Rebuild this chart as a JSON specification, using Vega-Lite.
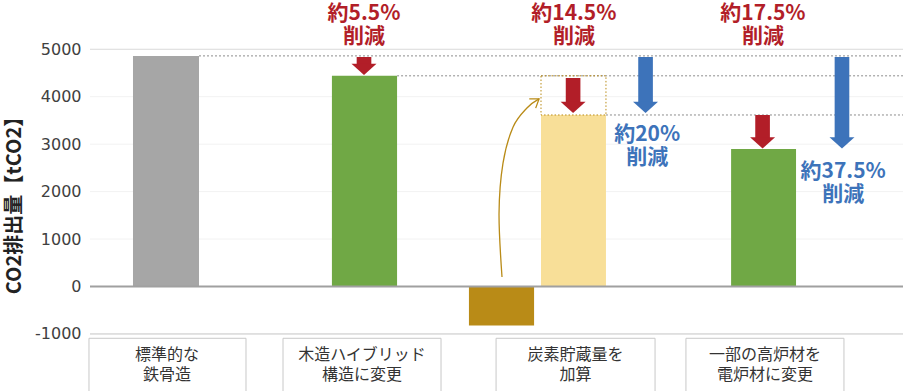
{
  "$schema": "https://vega.github.io/schema/vega-lite/v6.json",
  "width": 813,
  "height": 391,
  "autosize": {"type": "none"},
  "padding": {"left": 90, "top": 0, "right": 0, "bottom": 0},
  "background": "white",
  "config": {
    "view": {"stroke": null},
    "font": "Noto Sans CJK JP",
    "axisY": {
      "domain": false, "ticks": false, "tickSize": 0, "grid": false,
      "labelExpr": "datum.value < 0 ? '-' + abs(datum.value) : '' + datum.value",
      "labelFont": "DejaVu Sans", "labelFontSize": 16, "labelColor": "#404040",
      "labelPadding": 9,
      "titleFont": "Noto Sans CJK JP", "titleFontSize": 20, "titleFontWeight": "bold",
      "titleColor": "#222222", "titleAngle": 270, "titleX": -76, "titleY": 200,
      "titleAlign": "center", "titleBaseline": "middle"
    }
  },
  "datasets": {
    "grid": [{"val": 1000}, {"val": 2000}, {"val": 3000}, {"val": 4000}],
    "grid5000": [{"val": 5000}],
    "zero": [{"val": 0}],
    "gridNeg": [{"val": -1000}],
    "bars": [
      {"item": "標準", "pos": -0.1667, "pos2": 0.1667, "val": 4860, "val2": 0},
      {"item": "木造", "pos": 0.838, "pos2": 1.167, "val": 4440, "val2": 0},
      {"item": "炭素貯蔵", "pos": 1.53, "pos2": 1.859, "val": 0, "val2": -820},
      {"item": "炭素貯蔵後", "pos": 1.894, "pos2": 2.222, "val": 3615, "val2": 0},
      {"item": "電炉", "pos": 2.854, "pos2": 3.182, "val": 2900, "val2": 0}
    ],
    "dotted": [
      {"pos": 0.1667, "pos2": 3.7222, "val": 4860},
      {"pos": 1.167, "pos2": 3.7222, "val": 4440},
      {"pos": 2.222, "pos2": 3.7222, "val": 3615}
    ],
    "box": [{"pos": 1.894, "pos2": 2.222, "val": 4440, "val2": 3615}],
    "shafts": [
      {"item": "個別", "pos": 0.963, "pos2": 1.037, "val": 4837, "val2": 4670},
      {"item": "個別", "pos": 2.019, "pos2": 2.093, "val": 4394, "val2": 3870},
      {"item": "個別", "pos": 2.976, "pos2": 3.05, "val": 3614, "val2": 3120},
      {"item": "累計", "pos": 2.385, "pos2": 2.459, "val": 4837, "val2": 3870},
      {"item": "累計", "pos": 3.377, "pos2": 3.451, "val": 4837, "val2": 3120}
    ],
    "heads": [
      {"item": "個別", "pos": 1.0, "val": 4457},
      {"item": "個別", "pos": 2.056, "val": 3656},
      {"item": "個別", "pos": 3.013, "val": 2908},
      {"item": "累計", "pos": 2.422, "val": 3656},
      {"item": "累計", "pos": 3.414, "val": 2908}
    ],
    "notes": [
      {"item": "個別", "pos": 1.0, "val": 5740, "label": "約5.5%\n削減"},
      {"item": "個別", "pos": 2.06, "val": 5740, "label": "約14.5%\n削減"},
      {"item": "個別", "pos": 3.015, "val": 5740, "label": "約17.5%\n削減"},
      {"item": "累計", "pos": 2.43, "val": 3200, "label": "約20%\n削減"},
      {"item": "累計", "pos": 3.42, "val": 2420, "label": "約37.5%\n削減"}
    ],
    "curve": [
      {"seq": 1, "pos": 1.697, "val": 200},
      {"seq": 2, "pos": 1.682, "val": 1543},
      {"seq": 3, "pos": 1.702, "val": 2600},
      {"seq": 4, "pos": 1.753, "val": 3362},
      {"seq": 5, "pos": 1.823, "val": 3763},
      {"seq": 6, "pos": 1.884, "val": 3953}
    ],
    "curveTip": [{"pos": 1.884, "val": 3953}],
    "cats": [
      {"pos": -0.389, "pos2": 0.404, "center": 0.005, "label": "標準的な\n鉄骨造"},
      {"pos": 0.591, "pos2": 1.389, "center": 0.99, "label": "木造ハイブリッド\n構造に変更"},
      {"pos": 1.667, "pos2": 2.47, "center": 2.068, "label": "炭素貯蔵量を\n加算"},
      {"pos": 2.626, "pos2": 3.424, "center": 3.025, "label": "一部の高炉材を\n電炉材に変更"}
    ]
  },
  "layer": [
    {
      "data": {"name": "grid"},
      "mark": {"type": "rule", "color": "#f2f2f2", "strokeWidth": 1},
      "encoding": {
        "y": {
          "field": "val", "type": "quantitative",
          "scale": {"domain": [-2202, 6038], "nice": false, "zero": false},
          "axis": {"values": [-1000, 0, 1000, 2000, 3000, 4000, 5000], "title": "CO2排出量【tCO2】"}
        }
      }
    },
    {
      "data": {"name": "grid5000"},
      "mark": {"type": "rule", "color": "#d9d9d9", "strokeWidth": 1},
      "encoding": {"y": {"field": "val", "type": "quantitative", "axis": {"values": [-1000, 0, 1000, 2000, 3000, 4000, 5000], "title": "CO2排出量【tCO2】"}}}
    },
    {
      "data": {"name": "gridNeg"},
      "mark": {"type": "rule", "color": "#c4c4c4", "strokeWidth": 1},
      "encoding": {"y": {"field": "val", "type": "quantitative", "axis": {"values": [-1000, 0, 1000, 2000, 3000, 4000, 5000], "title": "CO2排出量【tCO2】"}}}
    },
    {
      "data": {"name": "bars"},
      "mark": {"type": "rect"},
      "encoding": {
        "x": {"field": "pos", "type": "quantitative", "axis": null,
              "scale": {"domain": [-0.3838, 3.7222], "nice": false, "zero": false}},
        "x2": {"field": "pos2"},
        "y": {"field": "val", "type": "quantitative", "axis": {"values": [-1000, 0, 1000, 2000, 3000, 4000, 5000], "title": "CO2排出量【tCO2】"}},
        "y2": {"field": "val2"},
        "color": {
          "field": "item", "type": "nominal", "legend": null,
          "scale": {
            "domain": ["標準", "木造", "炭素貯蔵", "炭素貯蔵後", "電炉", "個別", "累計"],
            "range": ["#A6A6A6", "#70A845", "#B98B17", "#F8DF98", "#70A845", "#B21E28", "#3D73BA"]
          }
        }
      }
    },
    {
      "data": {"name": "zero"},
      "mark": {"type": "rule", "color": "#a0a0a0", "strokeWidth": 2},
      "encoding": {"y": {"field": "val", "type": "quantitative", "axis": {"values": [-1000, 0, 1000, 2000, 3000, 4000, 5000], "title": "CO2排出量【tCO2】"}}}
    },
    {
      "data": {"name": "dotted"},
      "mark": {"type": "rule", "color": "#8c8c8c", "strokeWidth": 1, "strokeDash": [2, 2]},
      "encoding": {
        "x": {"field": "pos", "type": "quantitative", "axis": null},
        "x2": {"field": "pos2"},
        "y": {"field": "val", "type": "quantitative", "axis": {"values": [-1000, 0, 1000, 2000, 3000, 4000, 5000], "title": "CO2排出量【tCO2】"}}
      }
    },
    {
      "data": {"name": "box"},
      "mark": {"type": "rect", "fill": null, "fillOpacity": 0, "stroke": "#B98B17", "strokeWidth": 1, "strokeDash": [1.5, 2]},
      "encoding": {
        "x": {"field": "pos", "type": "quantitative", "axis": null},
        "x2": {"field": "pos2"},
        "y": {"field": "val", "type": "quantitative", "axis": {"values": [-1000, 0, 1000, 2000, 3000, 4000, 5000], "title": "CO2排出量【tCO2】"}},
        "y2": {"field": "val2"}
      }
    },
    {
      "data": {"name": "shafts"},
      "mark": {"type": "rect"},
      "encoding": {
        "x": {"field": "pos", "type": "quantitative", "axis": null},
        "x2": {"field": "pos2"},
        "y": {"field": "val", "type": "quantitative", "axis": {"values": [-1000, 0, 1000, 2000, 3000, 4000, 5000], "title": "CO2排出量【tCO2】"}},
        "y2": {"field": "val2"},
        "color": {"field": "item", "type": "nominal", "legend": null}
      }
    },
    {
      "data": {"name": "heads"},
      "mark": {"type": "point", "shape": "M-1,-0.9L1,-0.9L0,0Z", "filled": true, "size": 625, "opacity": 1, "strokeWidth": 0},
      "encoding": {
        "x": {"field": "pos", "type": "quantitative", "axis": null},
        "y": {"field": "val", "type": "quantitative", "axis": {"values": [-1000, 0, 1000, 2000, 3000, 4000, 5000], "title": "CO2排出量【tCO2】"}},
        "color": {"field": "item", "type": "nominal", "legend": null}
      }
    },
    {
      "data": {"name": "notes"},
      "mark": {"type": "text", "lineBreak": "\n", "fontSize": 21, "fontWeight": "bold", "lineHeight": 23, "align": "center", "baseline": "middle"},
      "encoding": {
        "x": {"field": "pos", "type": "quantitative", "axis": null},
        "y": {"field": "val", "type": "quantitative", "axis": {"values": [-1000, 0, 1000, 2000, 3000, 4000, 5000], "title": "CO2排出量【tCO2】"}},
        "text": {"field": "label"},
        "color": {"field": "item", "type": "nominal", "legend": null}
      }
    },
    {
      "data": {"name": "curve"},
      "mark": {"type": "line", "interpolate": "cardinal", "stroke": "#B98B17", "strokeWidth": 1.3},
      "encoding": {
        "x": {"field": "pos", "type": "quantitative", "axis": null},
        "y": {"field": "val", "type": "quantitative", "axis": {"values": [-1000, 0, 1000, 2000, 3000, 4000, 5000], "title": "CO2排出量【tCO2】"}},
        "order": {"field": "seq", "type": "quantitative"}
      }
    },
    {
      "data": {"name": "curveTip"},
      "mark": {"type": "point", "shape": "M-1,-0.7L0,0L-1,0.7", "filled": false, "stroke": "#B98B17", "strokeWidth": 1.3, "size": 256, "opacity": 1, "angle": 325},
      "encoding": {
        "x": {"field": "pos", "type": "quantitative", "axis": null},
        "y": {"field": "val", "type": "quantitative", "axis": {"values": [-1000, 0, 1000, 2000, 3000, 4000, 5000], "title": "CO2排出量【tCO2】"}}
      }
    },
    {
      "data": {"name": "cats"},
      "mark": {"type": "rect", "fill": "white", "stroke": "#c8c8c8", "strokeWidth": 1},
      "encoding": {
        "x": {"field": "pos", "type": "quantitative", "axis": null},
        "x2": {"field": "pos2"},
        "y": {"datum": -1091, "type": "quantitative", "axis": {"values": [-1000, 0, 1000, 2000, 3000, 4000, 5000], "title": "CO2排出量【tCO2】"}},
        "y2": {"datum": -2400}
      }
    },
    {
      "data": {"name": "cats"},
      "mark": {"type": "text", "lineBreak": "\n", "fontSize": 16, "lineHeight": 20, "align": "center", "baseline": "middle", "color": "#333333"},
      "encoding": {
        "x": {"field": "center", "type": "quantitative", "axis": null},
        "y": {"datum": -1444, "type": "quantitative", "axis": {"values": [-1000, 0, 1000, 2000, 3000, 4000, 5000], "title": "CO2排出量【tCO2】"}},
        "text": {"field": "label"}
      }
    }
  ]
}
